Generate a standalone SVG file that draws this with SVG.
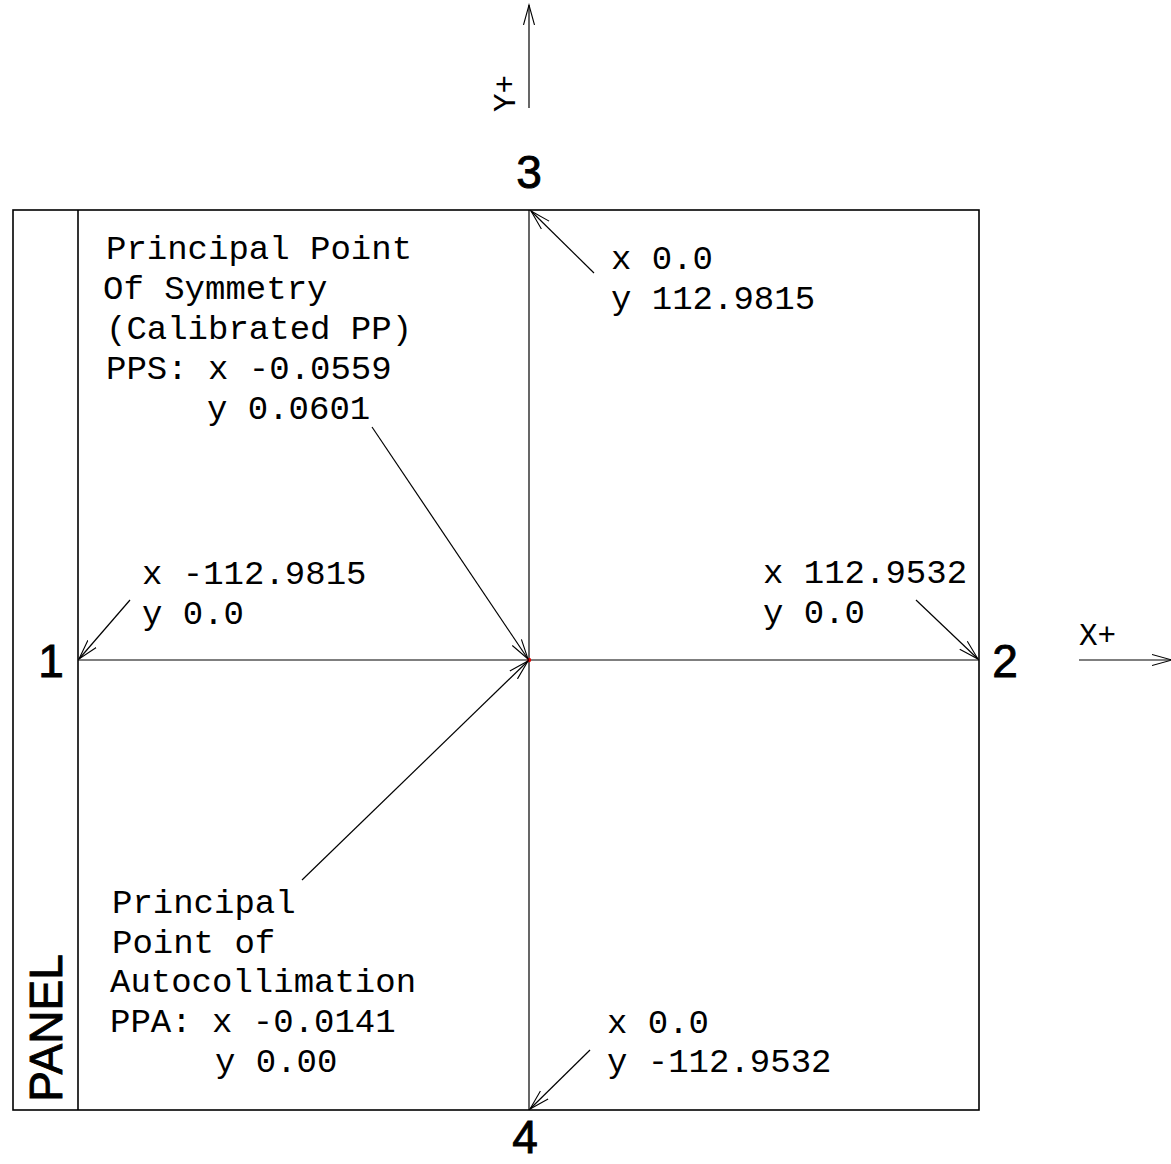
<svg xmlns="http://www.w3.org/2000/svg" width="1171" height="1164" viewBox="0 0 1171 1164">
<style>
.m{font-family:"Liberation Mono","Courier New",monospace;font-size:34px;fill:#000}
.ax{font-family:"Liberation Mono","Courier New",monospace;font-size:31px;fill:#000}
.n{font-family:"Liberation Sans",Arial,sans-serif;font-size:46px;fill:#000;stroke:#000;stroke-width:0.9}
.ln{stroke:#000;stroke-width:1.2;fill:none}
.fr{stroke:#000;stroke-width:1.6;fill:none}
</style>
<defs>
<marker id="ah" viewBox="-20 -8 22 16" refX="0" refY="0" markerWidth="22" markerHeight="16" markerUnits="userSpaceOnUse" orient="auto">
<path d="M-20,-5.5 L0,0 L-20,5.5" fill="none" stroke="#000" stroke-width="1.1"/>
</marker>
</defs>
<rect width="1171" height="1164" fill="#fff"/>
<g id="frame">
<rect class="fr" x="13" y="210" width="966" height="900"/>
<line class="fr" x1="78" y1="210" x2="78" y2="1110"/>
<line class="ln" x1="529" y1="210" x2="529" y2="1110"/>
<line class="ln" x1="78" y1="660" x2="979" y2="660"/>
<circle cx="529" cy="660" r="2.2" fill="#e00000"/>
</g>
<g id="connectors">
<line class="ln" x1="529" y1="108" x2="529" y2="5" marker-end="url(#ah)"/>
<line class="ln" x1="1079" y1="660" x2="1172" y2="660" marker-end="url(#ah)"/>
<line class="ln" x1="594" y1="273" x2="531" y2="211" marker-end="url(#ah)"/>
<line class="ln" x1="372" y1="427" x2="528" y2="659" marker-end="url(#ah)"/>
<line class="ln" x1="130" y1="600" x2="79" y2="659" marker-end="url(#ah)"/>
<line class="ln" x1="916" y1="600" x2="978" y2="659" marker-end="url(#ah)"/>
<line class="ln" x1="302" y1="880" x2="528" y2="661" marker-end="url(#ah)"/>
<line class="ln" x1="590" y1="1050" x2="530" y2="1109" marker-end="url(#ah)"/>
</g>
<g id="axis-y">
<text class="ax" transform="translate(515,112) rotate(-90)">Y+</text>
</g>
<g id="axis-x">
<text class="ax" x="1079" y="645">X+</text>
</g>
<g id="panel">
<text class="n" font-size="42" text-anchor="middle" transform="translate(62,1028) rotate(-90)">PANEL</text>
</g>
<g id="point-1">
<text class="n" x="51" y="677" text-anchor="middle">1</text>
<text class="m" x="142" y="584">x -112.9815</text>
<text class="m" x="142" y="624">y 0.0</text>
</g>
<g id="point-2">
<text class="n" x="1005" y="677" text-anchor="middle">2</text>
<text class="m" x="763" y="583">x 112.9532</text>
<text class="m" x="763" y="623">y 0.0</text>
</g>
<g id="point-3">
<text class="n" x="529" y="188" text-anchor="middle">3</text>
<text class="m" x="611" y="269">x 0.0</text>
<text class="m" x="611" y="309">y 112.9815</text>
</g>
<g id="point-4">
<text class="n" x="525" y="1153" text-anchor="middle">4</text>
<text class="m" x="607" y="1033">x 0.0</text>
<text class="m" x="607" y="1072">y -112.9532</text>
</g>
<g id="pps">
<text class="m" x="106" y="259">Principal Point</text>
<text class="m" x="103" y="299">Of Symmetry</text>
<text class="m" x="106" y="339">(Calibrated PP)</text>
<text class="m" x="106" y="379">PPS: x -0.0559</text>
<text class="m" x="207" y="419">y 0.0601</text>
</g>
<g id="ppa">
<text class="m" x="112" y="913">Principal</text>
<text class="m" x="112" y="953">Point of</text>
<text class="m" x="110" y="992">Autocollimation</text>
<text class="m" x="110" y="1032">PPA: x -0.0141</text>
<text class="m" x="215" y="1072">y 0.00</text>
</g>
</svg>
